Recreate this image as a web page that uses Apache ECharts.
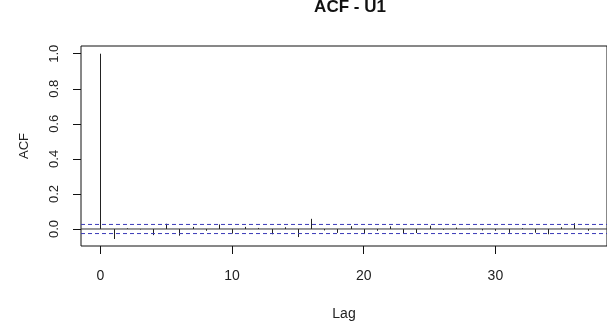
<!DOCTYPE html>
<html><head><meta charset="utf-8">
<script src="https://cdn.jsdelivr.net/npm/echarts@6/dist/echarts.min.js"></script>
<style>html,body{margin:0;padding:0;background:#fff}#c{width:607px;height:327px}</style>
</head><body><div id="c"></div>
<script>
const chartTitle = 'ACF - U1';
const lags = [0,1,2,3,4,5,6,7,8,9,10,11,12,13,14,15,16,17,18,19,20,21,22,23,24,25,26,27,28,29,30,31,32,33,34,35,36,37];
const acfValues = [1.0,-0.057,0.004,-0.003,-0.035,0.03,-0.038,0.012,-0.01,0.026,-0.026,0.012,0.006,-0.03,0.01,-0.046,0.058,-0.008,-0.022,0.016,-0.024,-0.01,0.015,-0.024,-0.023,0.019,-0.005,0.008,0.002,-0.008,-0.01,-0.022,0.005,-0.021,-0.03,0.01,0.033,-0.01];
const ciLimit = 0.026;
const xTickValues = [0,10,20,30];
const yTickValues = [0,0.2,0.4,0.6,0.8,1.0];
const xRange = [-1.48, 38.48];
const yRange = [-0.097, 1.044];

const font = 'Liberation Sans, Arial, sans-serif';
const chart = echarts.init(document.getElementById('c'), null, {renderer:'canvas'});
const spikeData = lags.map((l,i)=>[l, acfValues[i]]);
chart.setOption({
  animation:false,
  backgroundColor:'#fff',
  title:{text:chartTitle,left:345,textAlign:'center',top:-6,
    textStyle:{fontSize:17,fontWeight:'bold',color:'#111',fontFamily:font}},
  grid:{left:81,right:-2,top:46,bottom:81,show:true,borderColor:'#111',borderWidth:1,backgroundColor:'transparent'},
  xAxis:{type:'value',min:xRange[0],max:xRange[1],
    splitLine:{show:false},axisLine:{show:false,onZero:false},
    axisTick:{show:true,inside:false,customValues:xTickValues,length:8,lineStyle:{color:'#111'}},
    axisLabel:{customValues:xTickValues,fontSize:14,color:'#222',margin:23,fontFamily:font},
    name:'Lag',nameLocation:'middle',nameGap:61,
    nameTextStyle:{fontSize:14,color:'#222',fontFamily:font}},
  yAxis:{type:'value',min:yRange[0],max:yRange[1],
    splitLine:{show:false},axisLine:{show:false,onZero:false},
    axisTick:{show:true,inside:false,customValues:yTickValues,length:8,lineStyle:{color:'#111'}},
    axisLabel:{customValues:yTickValues,rotate:90,fontSize:13,color:'#222',margin:20,fontFamily:font,
      formatter:v=>Number(v).toFixed(1)},
    name:'ACF',nameLocation:'middle',nameGap:50,
    nameTextStyle:{fontSize:13,color:'#222',fontFamily:font}},
  series:[
    {type:'line',data:[[xRange[0],0],[xRange[1],0]],symbol:'none',silent:true,
      lineStyle:{color:'#333',width:1}},
    {type:'line',data:[[xRange[0],ciLimit],[xRange[1],ciLimit]],symbol:'none',silent:true,
      lineStyle:{color:'#3a3ab8',width:1,type:[4,3]}},
    {type:'line',data:[[xRange[0],-ciLimit],[xRange[1],-ciLimit]],symbol:'none',silent:true,
      lineStyle:{color:'#3a3ab8',width:1,type:[4,3]}},
    {type:'custom',data:spikeData,silent:true,
      renderItem:(params,api)=>{
        const p0=api.coord([api.value(0),0]);
        const p1=api.coord([api.value(0),api.value(1)]);
        const x=Math.round(p0[0])+0.5;
        return {type:'line',shape:{x1:x,y1:p0[1],x2:x,y2:p1[1]},style:{stroke:'#222',lineWidth:1}};
      }}
  ]
});
</script></body></html>
